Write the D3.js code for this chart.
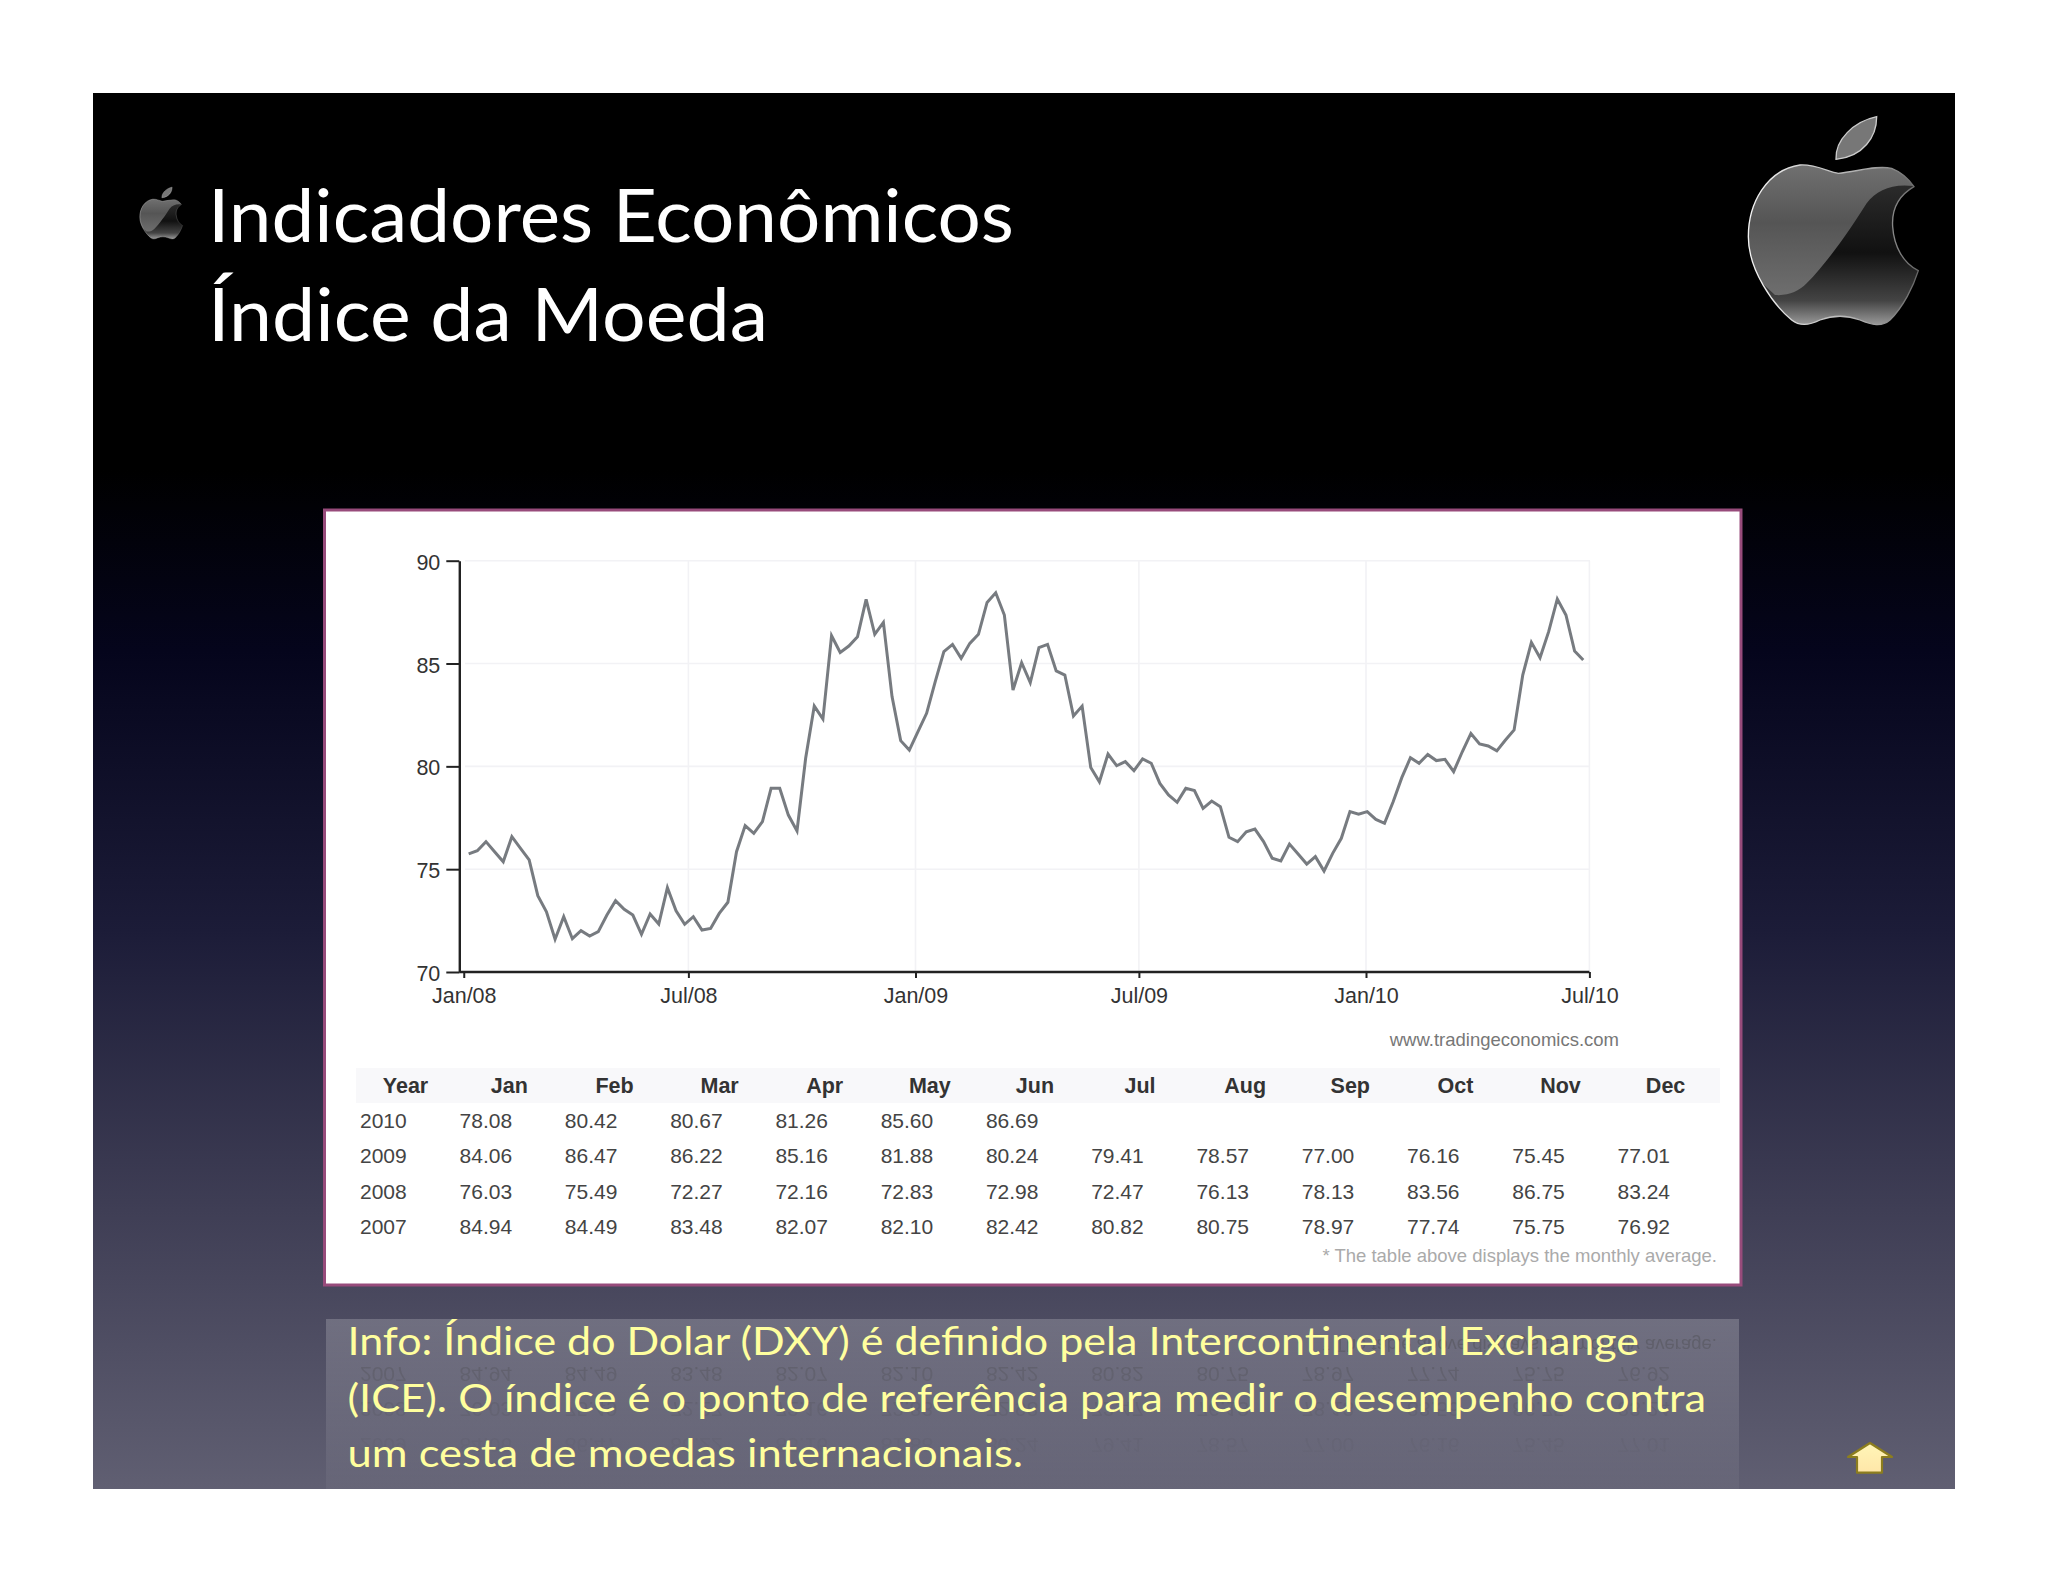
<!DOCTYPE html>
<html>
<head>
<meta charset="utf-8">
<title>Indicadores Econômicos</title>
<script src="https://cdn.jsdelivr.net/npm/d3@7/dist/d3.min.js"></script>
<style>
  html, body { margin: 0; padding: 0; background: #fff; }
  svg { display: block; }
  .num { font-family: "Liberation Sans", Arial, sans-serif; }
  .slide { font-family: Lato, "Open Sans", sans-serif; }
</style>
</head>
<body>
<svg id="chart" width="2048" height="1582"></svg>
<script>
// weekly closes, first week is 5 Jan 2008
const weekly08 = [75.74, 75.90, 76.34, 75.85, 75.36, 76.58, 76.01, 75.45, 73.71, 72.93, 71.59, 72.69, 71.62,
  72.01, 71.75, 71.96, 72.77, 73.47, 73.05, 72.77, 71.83, 72.82, 72.33, 74.10, 72.98, 72.32, 72.69, 72.04,
  72.12, 72.85, 73.39, 75.85, 77.12, 76.74, 77.31, 78.93, 78.93, 77.63, 76.86, 80.39, 82.93, 82.30, 86.35,
  85.54, 85.85, 86.30, 88.12, 86.42, 87.00, 83.39, 81.25, 80.79]
const weekly09 = [81.69, 82.58, 84.12, 85.58, 85.93, 85.25, 85.98, 86.42, 87.97, 88.44, 87.36, 83.71, 85.04,
  84.07, 85.77, 85.93, 84.64, 84.44, 82.45, 82.93, 79.94, 79.25, 80.60, 80.03, 80.23, 79.79, 80.36, 80.15,
  79.17, 78.61, 78.25, 78.93, 78.82, 77.96, 78.31, 78.04, 76.55, 76.34, 76.82, 76.95, 76.34, 75.53, 75.40,
  76.22, 75.74, 75.25, 75.61, 74.91, 75.77, 76.50, 77.80, 77.67]
const weekly10 = [77.80, 77.42, 77.23, 78.28, 79.45, 80.42, 80.15, 80.58, 80.28, 80.34, 79.74, 80.71, 81.60,
  81.09, 80.99, 80.75, 81.28, 81.77, 84.44, 86.03, 85.28, 86.55, 88.14, 87.36, 85.61, 85.17]

const yTicks = [70, 75, 80, 85, 90]
const xTicks = ['2008-01-01', '2008-07-01', '2009-01-01', '2009-07-01', '2010-01-01', '2010-07-01']

const tableHeader = ['Year', 'Jan', 'Feb', 'Mar', 'Apr', 'May', 'Jun', 'Jul', 'Aug', 'Sep', 'Oct', 'Nov', 'Dec']
const row2010 = ['2010', '78.08', '80.42', '80.67', '81.26', '85.60', '86.69']
const row2009 = ['2009', '84.06', '86.47', '86.22', '85.16', '81.88', '80.24', '79.41', '78.57', '77.00', '76.16', '75.45', '77.01']
const row2008 = ['2008', '76.03', '75.49', '72.27', '72.16', '72.83', '72.98', '72.47', '76.13', '78.13', '83.56', '86.75', '83.24']
const row2007 = ['2007', '84.94', '84.49', '83.48', '82.07', '82.10', '82.42', '80.82', '80.75', '78.97', '77.74', '75.75', '76.92']
const tableRows = [row2010, row2009, row2008, row2007]

const titleLines = ['Indicadores Econômicos', 'Índice da Moeda']
const captionLines = [
  'Info: Índice do Dolar (DXY) é definido pela Intercontinental Exchange',
  '(ICE). O índice é o ponto de referência para medir o desempenho contra',
  'um cesta de moedas internacionais.'
]
const noteText = '* The table above displays the monthly average.'

const svg = d3.select('#chart')
const defs = svg.append('defs')

function gradient(id, stops, horizontal) {
  const g = defs.append('linearGradient').attr('id', id)
    .attr('x1', 0).attr('y1', 0)
    .attr('x2', horizontal ? 1 : 0).attr('y2', horizontal ? 0 : 1)
  stops.forEach(s => g.append('stop').attr('offset', s[0]).attr('stop-color', s[1]).attr('stop-opacity', s[2] === undefined ? 1 : s[2]))
  return g
}

gradient('slideBg', [[0, '#000'], [0.27, '#000'], [0.4, '#05051c'], [0.6, '#1c1c38'], [0.8, '#3f3e55'], [1, '#605f72']])
gradient('boxBg', [[0, '#fff', 0.2], [1, '#fff', 0.04]])
gradient('appleBase', [[0, '#333'], [0.55, '#111'], [0.85, '#444'], [1, '#999']])
gradient('appleGloss', [[0, '#777'], [0.5, '#555'], [1, '#6e6e6e']])
gradient('appleEdge', [[0, '#f4f4f4'], [0.7, '#aaa'], [1, '#666']], true)
gradient('arrowFill', [[0, '#fff6b8'], [1, '#ffe6a8']])
gradient('fade', [[0, '#fff', 0.4], [0.45, '#fff', 0.2], [0.8, '#fff', 0.08], [1, '#fff', 0]])
  .attr('gradientUnits', 'userSpaceOnUse').attr('y1', 1319).attr('y2', 1470).attr('x2', 0)

// slide
svg.append('rect').attr('x', 93).attr('y', 93).attr('width', 1862).attr('height', 1396).attr('fill', 'url(#slideBg)')

// apple logo, path coords are in a 840x780 box
const bodyPath = 'M415,250 C470,245 530,225 575,235 C600,245 625,265 642,290 C590,320 575,365 578,410 C582,470 610,520 655,542 C640,590 610,650 570,690 C545,712 515,705 480,690 C440,675 400,675 360,690 C330,705 300,710 275,690 C220,645 145,540 145,440 C145,340 200,240 300,225 C345,222 385,245 415,250 Z'
const glossPath = 'M642,288 C575,280 530,300 500,340 C450,420 380,520 320,580 C295,605 265,618 225,615 L100,500 L100,180 L642,180 Z'
const leafPath = 'M408,208 C405,150 460,95 530,80 C530,140 490,200 408,208 Z'

defs.append('clipPath').attr('id', 'appleClip').append('path').attr('d', bodyPath)

function drawApple(tx, ty, sx, sy) {
  const g = svg.append('g').attr('transform', `translate(${tx},${ty}) scale(${sx},${sy})`)
  g.append('path').attr('d', bodyPath).attr('fill', 'url(#appleBase)')
  g.append('path').attr('d', glossPath).attr('fill', 'url(#appleGloss)').attr('clip-path', 'url(#appleClip)')
  g.append('path').attr('d', bodyPath).attr('fill', 'none').attr('stroke', 'url(#appleEdge)').attr('stroke-width', 4)
  g.append('path').attr('d', leafPath).attr('fill', '#777').attr('stroke', '#ccc').attr('stroke-width', 4)
}
drawApple(1700, 90, 1 / 3, 1 / 3)
drawApple(127.6, 180.5, 0.084, 0.083)

// title
const titleLengths = [806, 560]
svg.append('g').attr('class', 'slide').selectAll('text').data(titleLines).join('text')
  .attr('x', 208)
  .attr('y', (d, i) => 241.7 + i * 99)
  .attr('font-size', 74)
  .attr('fill', '#fff')
  .attr('textLength', (d, i) => titleLengths[i])
  .attr('lengthAdjust', 'spacingAndGlyphs')
  .text(d => d)

// white panel
svg.append('rect').attr('x', 324.5).attr('y', 510).attr('width', 1416.5).attr('height', 775)
  .attr('fill', '#fff').attr('stroke', '#974b7b').attr('stroke-width', 3)

// chart
const weekly = weekly08.concat(weekly09, weekly10)
const firstWeek = new Date(2008, 0, 5)
const parseDay = d3.timeParse('%Y-%m-%d')
const x = d3.scaleTime().domain([parseDay(xTicks[0]), parseDay(xTicks[5])]).range([463.75, 1589.4])
const y = d3.scaleLinear().domain([70, 90]).range([972, 560.7])

const grid = svg.append('g').attr('stroke', '#f2f2f5').attr('stroke-width', 1.6)
grid.selectAll('.gy').data(yTicks.slice(1)).join('line')
  .attr('x1', 465).attr('x2', 1590).attr('y1', d => y(d)).attr('y2', d => y(d))
grid.selectAll('.gx').data(xTicks.slice(1)).join('line')
  .attr('x1', d => x(parseDay(d))).attr('x2', d => x(parseDay(d))).attr('y1', 560.7).attr('y2', 972)

const line = d3.line()
  .x((d, i) => x(d3.timeDay.offset(firstWeek, i * 7)))
  .y(d => y(d))
svg.append('path').datum(weekly)
  .attr('d', line)
  .attr('fill', 'none')
  .attr('stroke', '#777b80')
  .attr('stroke-width', 3)

const fmtTick = d3.timeFormat('%b/%y')
const xAxis = svg.append('g').attr('class', 'num').attr('transform', 'translate(0,972)')
  .call(d3.axisBottom(x).tickValues(xTicks.map(parseDay)).tickFormat(fmtTick).tickSize(6).tickSizeOuter(0).tickPadding(10))
xAxis.select('.domain').attr('d', 'M459.3,0H1589.4')
const yAxis = svg.append('g').attr('class', 'num').attr('transform', 'translate(459.3,0)')
  .call(d3.axisLeft(y).tickValues(yTicks).tickSize(13).tickSizeOuter(0).tickPadding(6))
yAxis.selectAll('.tick text').attr('dy', '0.4em')
svg.selectAll('.domain').attr('stroke', '#222').attr('stroke-width', 2.4)
svg.selectAll('.tick line').attr('stroke', '#222').attr('stroke-width', 2)
svg.selectAll('.tick text').attr('font-size', 21.5).attr('font-family', '"Liberation Sans", Arial, sans-serif').attr('fill', '#333')

// table
const headerCenter = d3.scaleLinear().domain([1, 12]).range([509.4, 1665.6])
const cellLeft = d3.scaleLinear().domain([1, 12]).range([459.6, 1617.5])
const rowY = d3.scaleLinear().domain([0, 3]).range([1128, 1234])

function drawRows(g, rowIndexes) {
  rowIndexes.forEach(r => {
    g.selectAll('.r' + r).data(tableRows[r]).join('text')
      .attr('class', 'r' + r + ' num')
      .attr('x', (d, i) => i === 0 ? 360 : cellLeft(i))
      .attr('y', rowY(r))
      .attr('font-size', 21)
      .attr('fill', '#444')
      .text(d => d)
  })
}

function drawNote(g, color) {
  g.append('text').attr('class', 'num')
    .attr('x', 1717).attr('y', 1261.7)
    .attr('text-anchor', 'end').attr('font-size', 18.5).attr('fill', color)
    .text(noteText)
}

const table = svg.append('g')
table.append('rect').attr('x', 356).attr('y', 1068).attr('width', 1364).attr('height', 35).attr('fill', '#f8f8fa')
table.selectAll('.head').data(tableHeader).join('text')
  .attr('class', 'head num')
  .attr('x', (d, i) => i === 0 ? 405.5 : headerCenter(i))
  .attr('y', 1093)
  .attr('text-anchor', 'middle')
  .attr('font-size', 21.5)
  .attr('font-weight', 'bold')
  .attr('fill', '#333')
  .text(d => d)
drawRows(table, [0, 1, 2, 3])
drawNote(table, '#aaa')

svg.append('text').attr('class', 'num')
  .attr('x', 1619).attr('y', 1046)
  .attr('text-anchor', 'end').attr('font-size', 18.5).attr('fill', '#777')
  .text('www.tradingeconomics.com')

// caption box, the table shows through it as a fading reflection
svg.append('rect').attr('x', 326).attr('y', 1319).attr('width', 1413).attr('height', 170).attr('fill', 'url(#boxBg)')
const fadeMask = defs.append('mask').attr('id', 'fadeMask').attr('maskUnits', 'userSpaceOnUse')
  .attr('x', 326).attr('y', 1319).attr('width', 1413).attr('height', 170)
fadeMask.append('rect').attr('x', 326).attr('y', 1319).attr('width', 1413).attr('height', 170).attr('fill', 'url(#fade)')
const mirror = svg.append('g').attr('mask', 'url(#fadeMask)')
  .append('g').attr('transform', 'translate(0,2601) scale(1,-1)')
drawRows(mirror, [1, 2, 3])
drawNote(mirror, '#444')

const captionY = [1355, 1411.7, 1466.7]
const captionLengths = [1291.5, 1358.5, 675.5]
svg.append('g').attr('class', 'slide').selectAll('text').data(captionLines).join('text')
  .attr('x', 347.5)
  .attr('y', (d, i) => captionY[i])
  .attr('font-size', 39)
  .attr('fill', '#ffff9e')
  .attr('textLength', (d, i) => captionLengths[i])
  .attr('lengthAdjust', 'spacingAndGlyphs')
  .text(d => d)

// home arrow
const arrowPoints = [[1870, 1443], [1892, 1457], [1882, 1457], [1882, 1472.7], [1857, 1472.7], [1857, 1457], [1848, 1457]]
svg.append('path').attr('d', d3.line()(arrowPoints) + 'Z')
  .attr('fill', 'url(#arrowFill)').attr('stroke', '#8c7d1e').attr('stroke-width', 2.2).attr('stroke-linejoin', 'round')
</script>
</body>
</html>
